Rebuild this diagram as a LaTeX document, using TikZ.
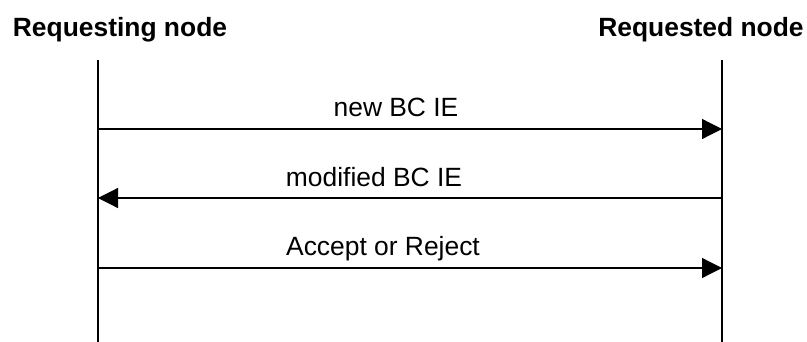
\documentclass[tikz,border=0pt]{standalone}
\usepackage{fontspec}
\setmainfont{Liberation Sans}
\usetikzlibrary{arrows.meta}
\tikzstyle{party} = [font=\fontsize{13.2}{16}\selectfont\bfseries, anchor=base, inner sep=0pt]
\tikzstyle{msgtext} = [font=\fontsize{13.2}{16}\selectfont, anchor=base, inner sep=0pt]
\tikzstyle{msg} = [-{Triangle[length=10pt,width=10pt]}, line width=0.6pt]

\begin{document}
\begin{tikzpicture}[x=0.5pt,y=-0.5pt]
			\useasboundingbox (0,0) rectangle (807,342);
			\node[party] (req) at (120,37) {Requesting node};
			\node[party] (red) at (701,37) {Requested node};
			\coordinate (reqtop) at (98,60);
			\coordinate (reqbot) at (98,342);
			\coordinate (redtop) at (722,60);
			\coordinate (redbot) at (722,342);
			\draw[line width=0.6pt] (reqtop) -- (reqbot);
			\draw[line width=0.6pt] (redtop) -- (redbot);
			\coordinate (l1) at (98,129);
			\coordinate (r1) at (722,129);
			\coordinate (l2) at (98,198);
			\coordinate (r2) at (722,198);
			\coordinate (l3) at (98,268);
			\coordinate (r3) at (722,268);
			\draw[msg] (l1) -- (r1);
			\node[msgtext] (newbc) at (396,117) {new BC IE};
			\draw[msg] (r2) -- (l2);
			\node[msgtext] (modbc) at (374,186) {modified BC IE};
			\draw[msg] (l3) -- (r3);
			\node[msgtext] (accrej) at (383,255) {Accept or Reject};
		\end{tikzpicture}
\end{document}
